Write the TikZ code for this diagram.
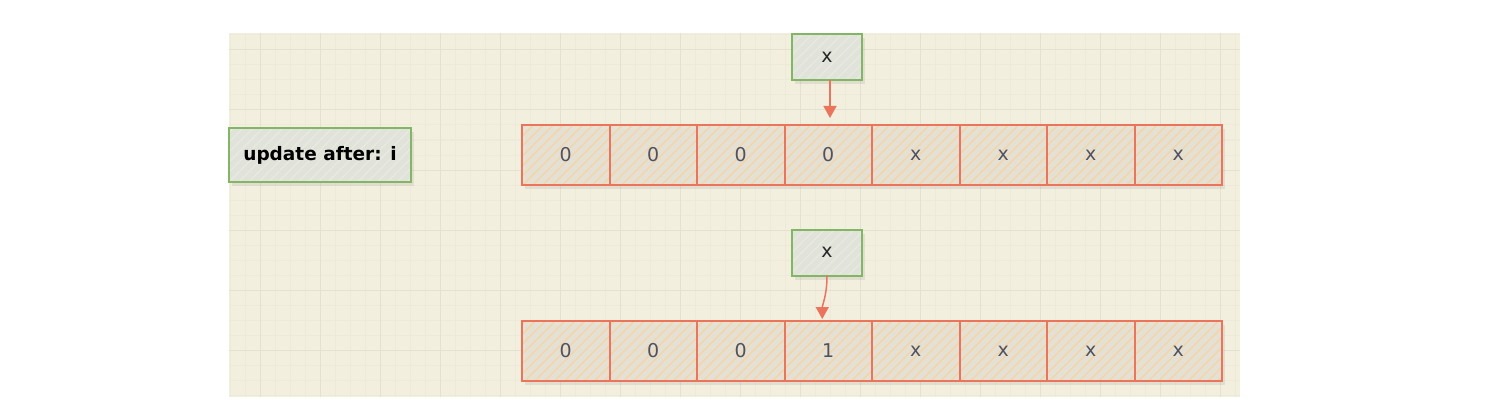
\documentclass[tikz,border=0pt]{standalone}
\usepackage{fontspec}
\setmainfont{DejaVu Sans}
\usetikzlibrary{positioning,arrows.meta,patterns.meta,shadows}
\definecolor{paper}{RGB}{242,239,222}
\definecolor{gridminor}{RGB}{237,234,217}
\definecolor{gridmajor}{RGB}{228,225,208}
\definecolor{cellfill}{RGB}{229,225,212}
\definecolor{cellhatch}{RGB}{245,212,166}
\definecolor{cellline}{RGB}{234,117,92}
\definecolor{tagfill}{RGB}{224,227,217}
\definecolor{taghatch}{RGB}{234,232,224}
\definecolor{tagline}{RGB}{130,181,100}
\definecolor{digit}{RGB}{80,82,98}
\begin{document}
\begin{tikzpicture}[x=1pt, y=-1pt,
                    cell/.style={rectangle, draw=cellline, line width=2pt,
                        minimum width=87.5pt, minimum height=60pt,
                        inner sep=0pt, outer sep=0pt,
                        drop shadow={shadow xshift=3pt, shadow yshift=-4pt, opacity=0.15},
                        preaction={fill=cellfill, fill opacity=0.9},
                        pattern={Lines[angle=45, distance=7pt, line width=1.3pt]},
                        pattern color=cellhatch,
                        text=digit, font=\fontsize{19}{19}\selectfont},
                    tag/.style={rectangle, draw=tagline, line width=2pt,
                        inner sep=0pt, outer sep=0pt,
                        drop shadow={shadow xshift=3pt, shadow yshift=-4pt, opacity=0.15},
                        preaction={fill=tagfill},
                        pattern={Lines[angle=45, distance=7pt, line width=1.3pt]},
                        pattern color=taghatch},
                    ptr/.style={tag, minimum width=70pt, minimum height=46pt,
                        text=black!85, font=\fontsize{19}{19}\selectfont},
                    link/.style={draw=cellline, line width=1.5pt,
                        -{Triangle[length=12pt, width=13pt]}},
                ]
                \useasboundingbox (0,0) rectangle (1485,401);
                % paper with grid
                \fill[paper] (229,33) rectangle (1240,397);
                \foreach \x in {230,245,...,1235} \draw[gridminor, line width=1pt] (\x,33) -- (\x,397);
                \foreach \y in {35,50,...,395} \draw[gridminor, line width=1pt] (229,\y) -- (1240,\y);
                \foreach \x in {260,320,...,1220} \draw[gridmajor, line width=1pt] (\x,33) -- (\x,397);
                \foreach \y in {50,110,...,350} \draw[gridmajor, line width=1pt] (229,\y) -- (1240,\y);

                \node[tag, minimum width=182pt, minimum height=54pt,
                      font=\fontsize{18.5}{18.5}\selectfont\bfseries] (label) at (320,155) {update after: i};

                % before
                \node[cell] (a1) at (565.75,155) {0};
                \node[cell, right=0pt of a1] (a2) {0};
                \node[cell, right=0pt of a2] (a3) {0};
                \node[cell, right=0pt of a3] (a4) {0};
                \node[cell, right=0pt of a4] (a5) {x};
                \node[cell, right=0pt of a5] (a6) {x};
                \node[cell, right=0pt of a6] (a7) {x};
                \node[cell, right=0pt of a7] (a8) {x};
                \node[ptr] (xa) at (827,57) {x};
                \draw[link, shorten >=7pt] ([xshift=3pt]xa.south) -- ([xshift=3pt]xa.south |- a4.north);

                % after
                \node[cell] (b1) at (565.75,351) {0};
                \node[cell, right=0pt of b1] (b2) {0};
                \node[cell, right=0pt of b2] (b3) {0};
                \node[cell, right=0pt of b3] (b4) {1};
                \node[cell, right=0pt of b4] (b5) {x};
                \node[cell, right=0pt of b5] (b6) {x};
                \node[cell, right=0pt of b6] (b7) {x};
                \node[cell, right=0pt of b7] (b8) {x};
                \node[ptr] (xb) at (827,252.5) {x};
                \draw[link, shorten >=2pt] (xb.south) .. controls ++(0,20) and ++(0,-16) .. ([xshift=-6pt]b4.north);
                \end{tikzpicture}
\end{document}
